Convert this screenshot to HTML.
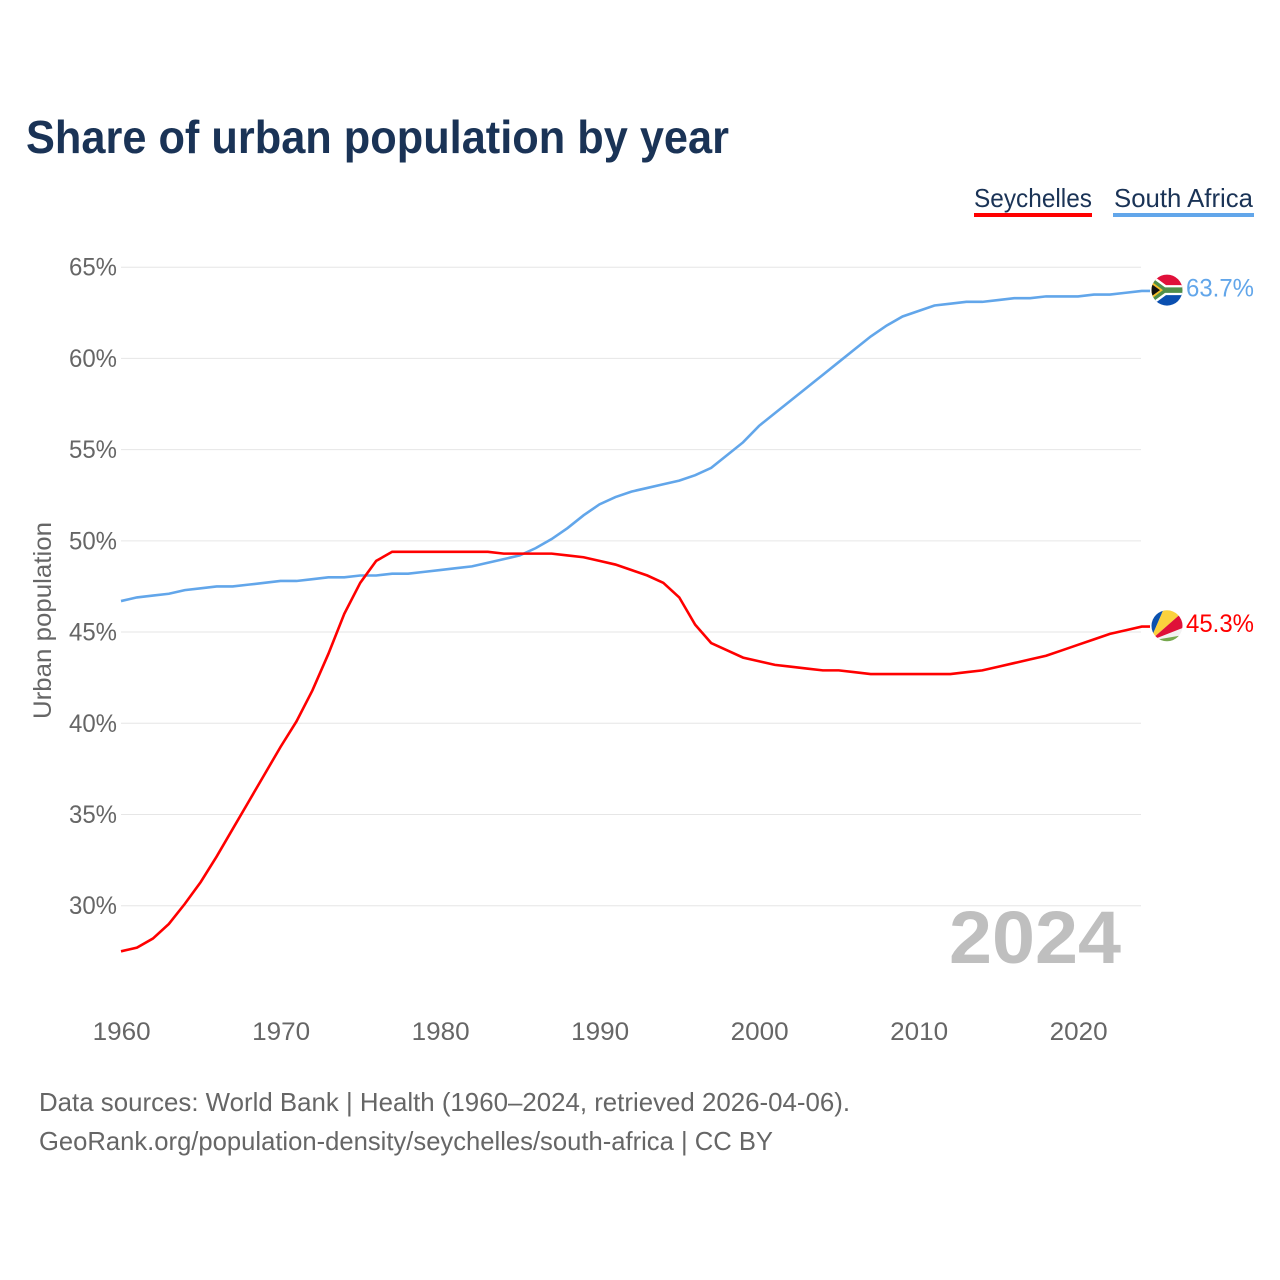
<!DOCTYPE html>
<html lang="en">
<head>
<meta charset="utf-8">
<title>Share of urban population by year</title>
<style>
html,body{margin:0;padding:0;background:#fff;width:1280px;height:1280px;overflow:hidden}
svg{display:block}
text{font-family:"Liberation Sans",sans-serif}
</style>
</head>
<body>
<svg id="chart" width="1280" height="1280" viewBox="0 0 1280 1280" xmlns="http://www.w3.org/2000/svg">
  <defs>
    <clipPath id="flag-clip"><circle cx="0" cy="0" r="15.5"/></clipPath>
  </defs>
  <text x="26" y="153" font-size="46" font-weight="700" fill="#1a3356" textLength="703" lengthAdjust="spacingAndGlyphs">Share of urban population by year</text>

  <g>
    <text x="974" y="207" font-size="26" fill="#1a3356" textLength="118" lengthAdjust="spacingAndGlyphs">Seychelles</text>
    <rect x="974" y="213" width="118" height="4" fill="#ff0000"/>
  </g>
  <g>
    <text x="1114" y="207" font-size="26" fill="#1a3356" textLength="139" lengthAdjust="spacingAndGlyphs">South Africa</text>
    <rect x="1113" y="213" width="141" height="4" fill="#62a6ea"/>
  </g>

  <g id="grid"></g>
  <g id="y-ticks"></g>
  <g id="x-ticks"></g>

  <text transform="translate(51,719) rotate(-90)" x="0" y="0" font-size="25" fill="#666666" textLength="197" lengthAdjust="spacingAndGlyphs">Urban population</text>

  <text x="949" y="963" font-size="74" font-weight="700" fill="#bfbfbf" textLength="172" lengthAdjust="spacingAndGlyphs">2024</text>

  <g id="series"></g>

  <g id="flag-za">
    <g clip-path="url(#flag-clip)">
      <rect x="-16" y="-16" width="32" height="16" fill="#e0103a"/>
      <rect x="-16" y="0" width="32" height="16" fill="#0a4fb0"/>
      <path d="M-16,-16 L-1,-5 L16,-5 L16,5 L-1,5 L-16,16 Z" fill="#ffffff"/>
      <path d="M-16,-13 L-2,-2.7 L16,-2.7 L16,2.7 L-2,2.7 L-16,13 Z" fill="#4f8f4a"/>
      <path d="M-16,-9 L-4,0 L-16,9 Z" fill="#f5bf2c"/>
      <path d="M-16,-6.5 L-7,0 L-16,6.5 Z" fill="#111111"/>
    </g>
  </g>
  <g id="flag-sc">
    <g clip-path="url(#flag-clip)">
      <rect x="-16" y="-16" width="32" height="32" fill="#f2f2f2"/>
      <path d="M-17,15 L-17,-16 L-3.6,-16 Z" fill="#0b51ae"/>
      <path d="M-17,15 L-3.6,-16 L16,-16 L16,-14 Z" fill="#fbd23d"/>
      <path d="M-17,15 L16,-14 L16,2 Z" fill="#df1038"/>
      <path d="M-17,15 L16,9.4 L16,16 L-17,16 Z" fill="#76a84e"/>
    </g>
  </g>

  <text id="end-label-za" x="1186" font-size="25" fill="#62a6ea" textLength="68" lengthAdjust="spacingAndGlyphs"></text>
  <text id="end-label-sc" x="1186" font-size="25" fill="#ff0000" textLength="68" lengthAdjust="spacingAndGlyphs"></text>

  <text x="39" y="1111" font-size="26" fill="#666666" textLength="811" lengthAdjust="spacingAndGlyphs">Data sources: World Bank | Health (1960–2024, retrieved 2026-04-06).</text>
  <text x="39" y="1150" font-size="26" fill="#666666" textLength="734" lengthAdjust="spacingAndGlyphs">GeoRank.org/population-density/seychelles/south-africa | CC BY</text>
</svg>
<script>
const startYear = 1960;
const yTickValues = [30, 35, 40, 45, 50, 55, 60, 65];
const xTickValues = [1960, 1970, 1980, 1990, 2000, 2010, 2020];
const southAfricaValues = [46.7,46.9,47.0,47.1,47.3,47.4,47.5,47.5,47.6,47.7,47.8,47.8,47.9,48.0,48.0,48.1,48.1,48.2,48.2,48.3,48.4,48.5,48.6,48.8,49.0,49.2,49.6,50.1,50.7,51.4,52.0,52.4,52.7,52.9,53.1,53.3,53.6,54.0,54.7,55.4,56.3,57.0,57.7,58.4,59.1,59.8,60.5,61.2,61.8,62.3,62.6,62.9,63.0,63.1,63.1,63.2,63.3,63.3,63.4,63.4,63.4,63.5,63.5,63.6,63.7];
const seychellesValues = [27.5,27.7,28.2,29.0,30.1,31.3,32.7,34.2,35.7,37.2,38.7,40.1,41.8,43.8,46.0,47.7,48.9,49.4,49.4,49.4,49.4,49.4,49.4,49.4,49.3,49.3,49.3,49.3,49.2,49.1,48.9,48.7,48.4,48.1,47.7,46.9,45.4,44.4,44.0,43.6,43.4,43.2,43.1,43.0,42.9,42.9,42.8,42.7,42.7,42.7,42.7,42.7,42.7,42.8,42.9,43.1,43.3,43.5,43.7,44.0,44.3,44.6,44.9,45.1,45.3];

const NS = 'http://www.w3.org/2000/svg';
function xScale(year) { return 121 + (year - 1960) * 15.95; }
function yScale(value) { return 267.2 + (65 - value) * 18.243; }

const gridGroup = document.getElementById('grid');
const yTickGroup = document.getElementById('y-ticks');
const xTickGroup = document.getElementById('x-ticks');
const seriesGroup = document.getElementById('series');

yTickValues.forEach(function (v) {
  const line = document.createElementNS(NS, 'line');
  
  
  line.setAttribute('x1', 121);
  line.setAttribute('x2', 1141);
  line.setAttribute('y1', yScale(v));
  line.setAttribute('y2', yScale(v));
  line.setAttribute('stroke', '#e6e6e6');
  line.setAttribute('stroke-width', 1);
  gridGroup.appendChild(line);

  const label = document.createElementNS(NS, 'text');
  
  
  label.setAttribute('x', 69);
  label.setAttribute('y', yScale(v) + 8.5);
  label.setAttribute('font-size', 25);
  label.setAttribute('fill', '#666666');
  label.setAttribute('textLength', 48);
  label.setAttribute('lengthAdjust', 'spacingAndGlyphs');
  label.textContent = v + '%';
  yTickGroup.appendChild(label);
});

xTickValues.forEach(function (year) {
  const label = document.createElementNS(NS, 'text');
  
  
  label.setAttribute('x', xScale(year) - 28.4);
  label.setAttribute('y', 1040);
  label.setAttribute('font-size', 25);
  label.setAttribute('fill', '#666666');
  label.setAttribute('textLength', 58);
  label.setAttribute('lengthAdjust', 'spacingAndGlyphs');
  label.textContent = year;
  xTickGroup.appendChild(label);
});

function pathFor(values) {
  const lastY = yScale(values[values.length - 1]).toFixed(2);
  return values.map(function (v, i) {
    return (i ? 'L' : 'M') + xScale(startYear + i).toFixed(2) + ',' + yScale(v).toFixed(2);
  }).join(' ') + ' L1150,' + lastY;
}

const southAfricaLine = document.createElementNS(NS, 'path');


southAfricaLine.setAttribute('d', pathFor(southAfricaValues));
southAfricaLine.setAttribute('fill', 'none');
southAfricaLine.setAttribute('stroke', '#62a6ea');
southAfricaLine.setAttribute('stroke-width', 2.6);
seriesGroup.appendChild(southAfricaLine);

const seychellesLine = document.createElementNS(NS, 'path');


seychellesLine.setAttribute('d', pathFor(seychellesValues));
seychellesLine.setAttribute('fill', 'none');
seychellesLine.setAttribute('stroke', '#ff0000');
seychellesLine.setAttribute('stroke-width', 2.6);
seriesGroup.appendChild(seychellesLine);

function placeEnd(values, flagId, labelId) {
  const last = values[values.length - 1];
  const y = yScale(last);
  document.getElementById(flagId).setAttribute('transform', 'translate(1167,' + (y - 0.8) + ')');
  const label = document.getElementById(labelId);
  label.setAttribute('y', y + 5.5);
  label.textContent = last.toFixed(1) + '%';
}
placeEnd(southAfricaValues, 'flag-za', 'end-label-za');
placeEnd(seychellesValues, 'flag-sc', 'end-label-sc');
</script>
</body>
</html>
